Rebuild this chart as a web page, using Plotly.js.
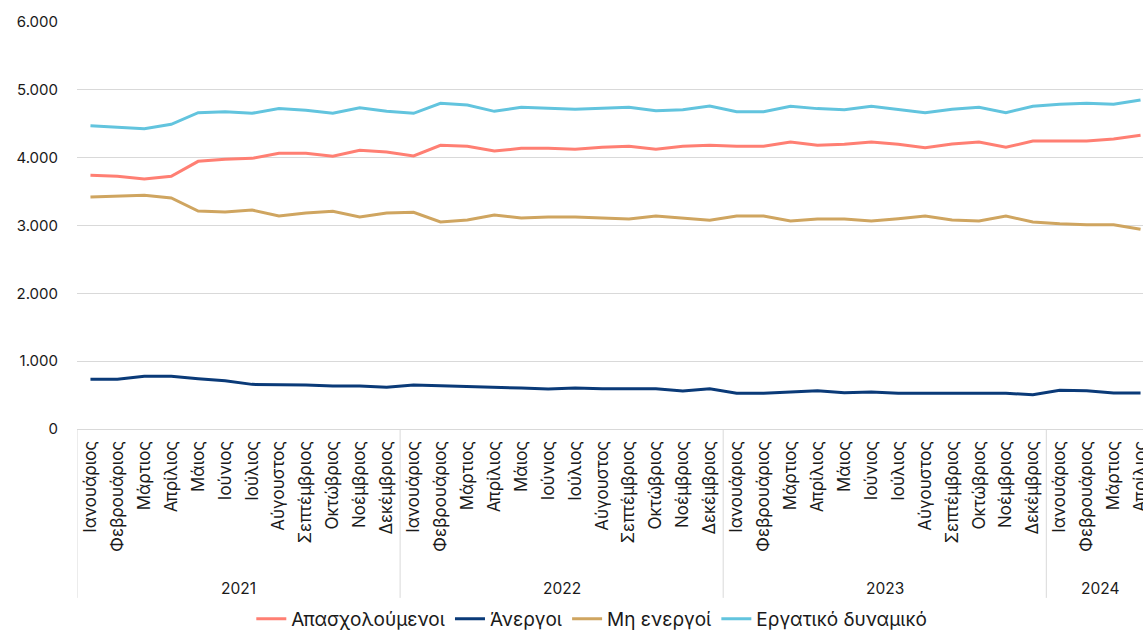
<!DOCTYPE html>
<html>
<head>
<meta charset="utf-8">
<script src="https://cdn.plot.ly/plotly-3.0.1.min.js"></script>
<style>
html,body{margin:0;padding:0;overflow:hidden;background:#fff;width:1143px;height:630px;}
#chart{width:1160px;height:630px;}
</style>
</head>
<body>
<div id="chart"></div>
<script>
var years = [
 '2021','2021','2021','2021','2021','2021','2021','2021','2021','2021','2021','2021',
 '2022','2022','2022','2022','2022','2022','2022','2022','2022','2022','2022','2022',
 '2023','2023','2023','2023','2023','2023','2023','2023','2023','2023','2023','2023',
 '2024','2024','2024','2024'];
var months = [
 'Ιανουάριος','Φεβρουάριος','Μάρτιος','Απρίλιος','Μάιος','Ιούνιος','Ιούλιος','Αύγουστος','Σεπτέμβριος','Οκτώβριος','Νοέμβριος','Δεκέμβριος',
 'Ιανουάριος','Φεβρουάριος','Μάρτιος','Απρίλιος','Μάιος','Ιούνιος','Ιούλιος','Αύγουστος','Σεπτέμβριος','Οκτώβριος','Νοέμβριος','Δεκέμβριος',
 'Ιανουάριος','Φεβρουάριος','Μάρτιος','Απρίλιος','Μάιος','Ιούνιος','Ιούλιος','Αύγουστος','Σεπτέμβριος','Οκτώβριος','Νοέμβριος','Δεκέμβριος',
 'Ιανουάριος','Φεβρουάριος','Μάρτιος','Απρίλιος'];

var employed = [
 3740,3725,3686,3725,3946,3976,3990,4064,4064,4020,4108,4084,
 4025,4182,4167,4098,4138,4138,4123,4153,4167,4123,4167,4182,
 4167,4167,4231,4182,4197,4231,4197,4148,4202,4231,4153,4246,
 4246,4246,4275,4329];
var unemployed = [
 732,732,777,777,742,712,658,658,649,634,634,614,
 649,639,624,609,604,590,604,594,594,594,560,594,
 526,526,546,565,536,545,526,526,526,526,526,506,
 570,565,531,531];
var inactive = [
 3420,3430,3445,3406,3214,3199,3229,3140,3184,3209,3125,3184,
 3194,3052,3081,3155,3111,3125,3125,3111,3096,3140,3111,3076,
 3140,3140,3066,3096,3096,3066,3101,3140,3081,3066,3140,3052,
 3027,3012,3012,2944];
var labourForce = [
 4472,4447,4428,4492,4664,4678,4654,4723,4698,4654,4737,4683,
 4654,4801,4777,4683,4742,4728,4713,4728,4742,4693,4708,4762,
 4678,4678,4757,4723,4708,4757,4713,4664,4713,4742,4664,4757,
 4787,4801,4787,4850];

var seriesNames = ['Απασχολούμενοι','Άνεργοι','Μη ενεργοί','Εργατικό δυναμικό'];
var seriesColors = ['#FF7F73','#0A3A78','#CFA560','#62C4DE'];
var seriesValues = [employed, unemployed, inactive, labourForce];

// category positions on the axis (one slot per month)
var pos = months.map(function(m, i){ return i; });

var traces = seriesValues.map(function(v,i){
  return {
    type:'scatter', mode:'lines',
    x:pos, y:v,
    name:seriesNames[i],
    line:{color:seriesColors[i], width:3},
    hoverinfo:'skip'
  };
});

// year groups: labels centred under each group, dividers between groups
var groups = [];
years.forEach(function(y, i){
  if (!groups.length || groups[groups.length-1].year !== y) groups.push({year:y, start:i, end:i});
  else groups[groups.length-1].end = i;
});

var font = 'Inter, "Noto Sans", sans-serif';
var divColor = '#d9d9d9';
var annotations = groups.map(function(g){
  return {
    xref:'x', yref:'paper', x:(g.start+g.end)/2, y:-0.3907,
    xanchor:'center', yanchor:'middle', showarrow:false,
    text:g.year, font:{family:font, size:15.5, color:'#1a1a1a'}
  };
});
var shapes = [];
groups.forEach(function(g, k){
  if (k === 0) shapes.push({type:'line', xref:'x', yref:'paper', x0:g.start-0.5, x1:g.start-0.5, y0:0, y1:-0.415, line:{color:divColor, width:1}, layer:'above'});
  shapes.push({type:'line', xref:'x', yref:'paper', x0:g.end+0.5, x1:g.end+0.5, y0:0, y1:-0.415, line:{color:divColor, width:1}, layer:'above'});
});

var layout = {
  width:1160, height:630,
  margin:{l:77, r:6, t:22, b:201},
  separators:',.',
  paper_bgcolor:'#ffffff', plot_bgcolor:'#ffffff',
  font:{family:font, size:15, color:'#1a1a1a'},
  showlegend:true,
  legend:{orientation:'h', xref:'paper', x:0.478, xanchor:'center',
          yref:'container', y:0.0175, yanchor:'middle',
          font:{family:font, size:19, color:'#1a1a1a'}, traceorder:'normal'},
  xaxis:{
    range:[-0.5, 39.5], automargin:false,
    tickmode:'array', tickvals:pos, ticktext:months,
    tickangle:-90,
    showgrid:false,
    showline:true, linecolor:divColor, linewidth:1,
    ticks:'', ticklabelstandoff:4,
    tickfont:{family:font, size:17, color:'#1a1a1a'},
    zeroline:false
  },
  yaxis:{
    range:[0,6000], dtick:1000, tickformat:',d', automargin:false,
    showgrid:true, gridcolor:divColor, gridwidth:1,
    zeroline:false, showline:false, ticks:'',
    tickfont:{family:font, size:15, color:'#1a1a1a'},
    ticklabelstandoff:18
  },
  annotations:annotations,
  shapes:shapes
};

Plotly.newPlot('chart', traces, layout, {displayModeBar:false, staticPlot:true});
</script>
</body>
</html>
